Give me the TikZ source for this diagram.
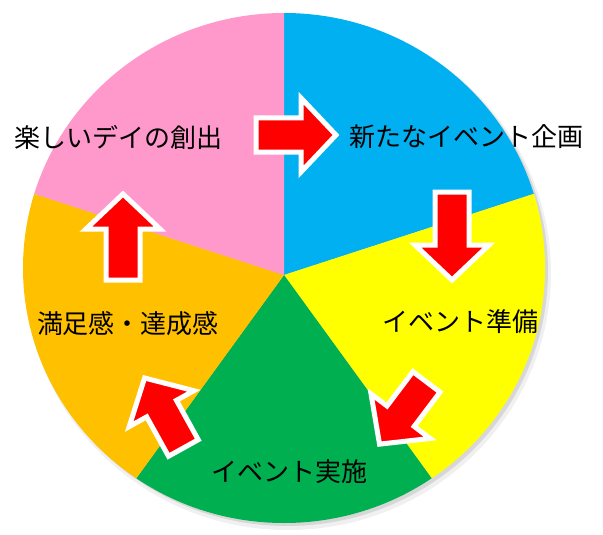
\documentclass[tikz,border=0pt]{standalone}
\usepackage{fontspec}
\newfontfamily\jpfont{Noto Sans CJK JP}
\usetikzlibrary{calc}
\definecolor{pinkS}{HTML}{FF99CC}
\definecolor{blueS}{HTML}{00B0F0}
\definecolor{yellowS}{HTML}{FFFF00}
\definecolor{greenS}{HTML}{00B050}
\definecolor{orangeS}{HTML}{FFC000}
\definecolor{redA}{HTML}{FF0000}
\tikzset{
  blockarrow/.style={draw=white, fill=redA, line width=5pt, line join=miter},
  lbl/.style={font=\jpfont\fontsize{26}{29}\selectfont, text=black, inner sep=0pt}
}
\newcommand\myarrow[4]{%
  \draw[blockarrow, shift={(#1,#2)}, rotate=#3]
    ({-#4/2},-17) -- ({#4/2-35},-17) -- ({#4/2-35},-37) -- ({#4/2},0)
    -- ({#4/2-35},37) -- ({#4/2-35},17) -- ({-#4/2},17) -- cycle;}
\begin{document}
\begin{tikzpicture}[x=1pt,y=-1pt]
\useasboundingbox (0,0) rectangle (603,535);
\fill[white] (0,0) rectangle (603,535);
% shadow
\fill[black, opacity=0.06] (288,273) ellipse [x radius=263, y radius=257];
\fill[black, opacity=0.10] (287,271) ellipse [x radius=261, y radius=255];
\coordinate (c) at (284,275);
\begin{scope}
  \clip (284,268) ellipse [x radius=261, y radius=255];
  \fill[blueS]   (c) -- ([shift={(-90:500)}]c) -- ([shift={(-54:500)}]c) -- ([shift={(-18:500)}]c) -- cycle;
  \fill[yellowS] (c) -- ([shift={(-18:500)}]c) -- ([shift={(18:500)}]c) -- ([shift={(54:500)}]c) -- cycle;
  \fill[greenS]  (c) -- ([shift={(54:500)}]c) -- ([shift={(90:500)}]c) -- ([shift={(126:500)}]c) -- cycle;
  \fill[orangeS] (c) -- ([shift={(126:500)}]c) -- ([shift={(162:500)}]c) -- ([shift={(198:500)}]c) -- cycle;
  \fill[pinkS]   (c) -- ([shift={(198:500)}]c) -- ([shift={(234:500)}]c) -- ([shift={(270:500)}]c) -- cycle;
\end{scope}
% labels
\node[lbl] (t1) at (119,137) {楽しいデイの創出};
\node[lbl] (t2) at (466,137) {新たなイベント企画};
\node[lbl] (t3) at (460,322) {イベント準備};
\node[lbl] (t4) at (289,472) {イベント実施};
\node[lbl] (t5) at (128,324) {満足感・達成感};
% arrows
\myarrow{296}{135}{0}{80}
\myarrow{452}{236}{-90}{88}
\myarrow{403}{413}{-127}{78}
\myarrow{164}{413}{119}{80}
\myarrow{123}{237}{90}{86}
\end{tikzpicture}
\end{document}
